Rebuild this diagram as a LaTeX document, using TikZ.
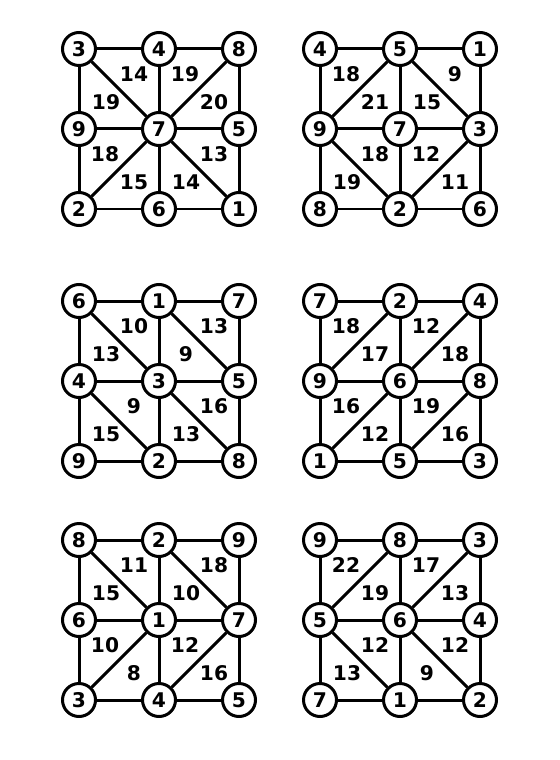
\documentclass[tikz,border=0pt]{standalone}
\usepackage{fontspec}
\setmainfont{DejaVu Sans}
\tikzset{
  rond/.style={circle, draw, fill=white, line width=0.06cm, minimum size=0.66cm, inner sep=0pt, font=\fontsize{11.5}{11.5}\selectfont\bfseries},
  trait/.style={line width=0.06cm},
  somme/.style={inner sep=0pt, font=\fontsize{11.5}{11.5}\selectfont\bfseries}
}
\begin{document}
\begin{tikzpicture}[x=0.02cm, y=-0.02cm]
  \useasboundingbox (0,0) rectangle (560,760);

  % Les six grilles : sommets et cotes
  \foreach \g/\ox/\oy/\vals in {a/79/49/{3,4,8,9,7,5,2,6,1}, b/320/49/{4,5,1,9,7,3,8,2,6},
                               c/79/301/{6,1,7,4,3,5,9,2,8}, d/320/301/{7,2,4,9,6,8,1,5,3},
                               e/79/540/{8,2,9,6,1,7,3,4,5}, f/320/540/{9,8,3,5,6,4,7,1,2}} {
    \begin{scope}[shift={(\ox,\oy)}]
      \foreach \v [count=\k from 0] in \vals {
        \pgfmathtruncatemacro\col{mod(\k,3)}
        \pgfmathtruncatemacro\lig{div(\k,3)}
        \node[rond] (\g\col\lig) at (80*\col,80*\lig) {\v};
      }
      \foreach \i in {0,1,2} {
        \draw[trait] (\g0\i) -- (\g1\i) -- (\g2\i);
        \draw[trait] (\g\i0) -- (\g\i1) -- (\g\i2);
      }
    \end{scope}
  }

  % Diagonales
  \draw[trait] (a00) -- (a11) -- (a22) (a20) -- (a11) -- (a02);
  \draw[trait] (b10) -- (b01) -- (b12) -- (b21) -- (b10);
  \draw[trait] (c00) -- (c11) -- (c22) (c10) -- (c21) (c01) -- (c12);
  \draw[trait] (d20) -- (d11) -- (d02) (d10) -- (d01) (d21) -- (d12);
  \draw[trait] (e00) -- (e11) -- (e02) (e10) -- (e21) -- (e12);
  \draw[trait] (f10) -- (f01) -- (f12) (f20) -- (f11) -- (f22);

  % Sommes dans les triangles
  \foreach \x/\y/\t [count=\n] in {55/25/14, 27/53/19, 106/25/19, 135/53/20, 26/105/18, 55/133/15, 135/105/13, 107/133/14}
    \node[somme] (as\n) at ([shift={(\x,\y)}]a00.center) {\t};
  \foreach \x/\y/\t [count=\n] in {26/25/18, 55/53/21, 135/25/9, 107/53/15, 55/105/18, 27/133/19, 106/105/12, 135/133/11}
    \node[somme] (bs\n) at ([shift={(\x,\y)}]b00.center) {\t};
  \foreach \x/\y/\t [count=\n] in {55/25/10, 27/53/13, 135/25/13, 107/53/9, 55/105/9, 27/133/15, 135/105/16, 107/133/13}
    \node[somme] (cs\n) at ([shift={(\x,\y)}]c00.center) {\t};
  \foreach \x/\y/\t [count=\n] in {26/25/18, 55/53/17, 106/25/12, 135/53/18, 26/105/16, 55/133/12, 106/105/19, 135/133/16}
    \node[somme] (ds\n) at ([shift={(\x,\y)}]d00.center) {\t};
  \foreach \x/\y/\t [count=\n] in {55/25/11, 27/53/15, 135/25/18, 107/53/10, 26/105/10, 55/133/8, 106/105/12, 135/133/16}
    \node[somme] (es\n) at ([shift={(\x,\y)}]e00.center) {\t};
  \foreach \x/\y/\t [count=\n] in {26/25/22, 55/53/19, 106/25/17, 135/53/13, 55/105/12, 27/133/13, 135/105/12, 107/133/9}
    \node[somme] (fs\n) at ([shift={(\x,\y)}]f00.center) {\t};
\end{tikzpicture}
\end{document}
